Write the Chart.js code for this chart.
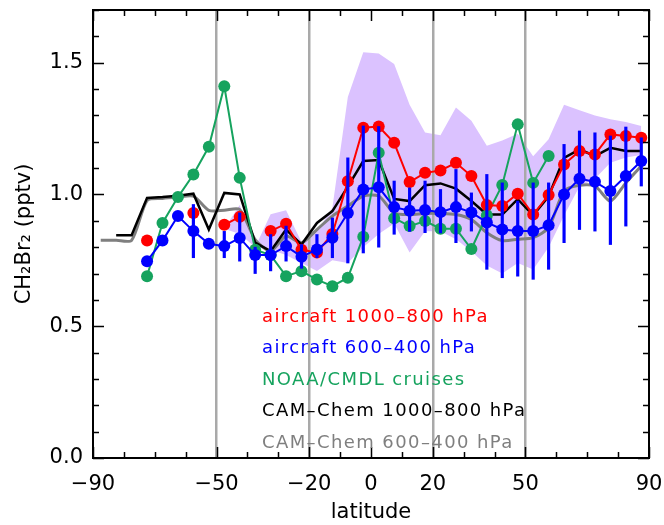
<!DOCTYPE html>
<html><head><meta charset="utf-8">
<script src="https://cdn.jsdelivr.net/npm/chart.js@4.4.1/dist/chart.umd.min.js"></script>
<style>html,body{margin:0;padding:0;background:#fff}canvas{display:block}</style>
</head><body>
<canvas id="c" width="664" height="525"></canvas>
<script>
// latitude bin centres (deg)
const latitudes = [-87.5,-82.5,-77.5,-72.5,-67.5,-62.5,-57.5,-52.5,-47.5,-42.5,-37.5,-32.5,-27.5,-22.5,-17.5,-12.5,-7.5,-2.5,
                   2.5,7.5,12.5,17.5,22.5,27.5,32.5,37.5,42.5,47.5,52.5,57.5,62.5,67.5,72.5,77.5,82.5,87.5];
// aircraft 1000-800 hPa (red)
const aircraftLow = [null,null,null,0.825,null,null,0.93,null,0.885,0.915,null,0.861,0.889,0.79,0.78,0.85,1.05,1.253,
                     1.258,1.196,1.047,1.082,1.091,1.12,1.07,0.96,0.956,1.003,0.924,0.998,1.114,1.165,1.152,1.228,1.222,1.215];
// aircraft 600-400 hPa (blue)
const aircraftMid = [null,null,null,0.747,0.825,0.918,0.861,0.813,0.804,0.835,0.77,0.77,0.804,0.764,0.791,0.836,0.93,1.019,
                     1.027,0.952,0.938,0.941,0.933,0.952,0.932,0.894,0.867,0.861,0.861,0.883,1.0,1.06,1.048,1.013,1.07,1.127];
const aircraftMidErrLow  = [null,null,null,null,null,null,0.76,null,0.76,0.747,0.70,0.71,0.747,0.72,0.76,0.76,0.74,0.778,
                            0.80,0.849,0.86,0.855,0.854,0.817,0.861,0.716,0.684,0.69,0.678,0.716,0.817,0.867,0.861,0.81,0.88,1.032];
const aircraftMidErrHigh = [null,null,null,null,null,null,0.962,null,0.86,0.93,0.80,0.848,0.88,0.81,0.848,0.911,1.139,1.26,
                            1.258,1.051,1.025,1.051,1.019,1.095,1.006,1.076,1.044,0.975,1.044,1.044,1.19,1.241,1.234,1.222,1.256,1.215];
// NOAA/CMDL cruises (green)
const cruises = [null,null,null,0.69,0.892,0.99,1.076,1.181,1.411,1.063,0.79,0.77,0.69,0.709,0.677,0.652,0.684,0.84,
                 1.158,0.91,0.88,0.899,0.87,0.87,0.793,0.92,1.036,1.266,1.044,1.146,null,null,null,null,null,null];
// CAM-Chem 1000-800 hPa (black)
const camLow = [null,0.845,0.845,0.987,0.99,0.995,1.003,0.867,1.006,1.0,0.817,0.785,0.867,0.81,0.892,0.937,1.03,1.127,
                1.131,0.983,0.975,1.035,1.042,1.022,0.975,0.924,0.924,0.982,0.921,0.993,1.139,1.171,1.146,1.177,1.165,1.165];
// CAM-Chem 600-400 hPa (grey)
const camMid = [0.826,0.826,0.826,0.977,0.985,0.99,0.994,0.94,0.94,0.943,0.829,0.785,0.842,0.817,0.867,0.918,0.956,0.994,
                0.994,0.93,0.924,0.928,0.928,0.924,0.905,0.855,0.825,0.83,0.836,0.874,1.013,1.035,1.032,0.975,1.044,1.108];
// model range (purple shading)
const rangeHigh = [null,null,null,null,null,null,null,null,0.87,0.96,0.80,0.925,0.94,0.82,0.86,0.95,1.37,1.54,
                   1.535,1.495,1.34,1.235,1.225,1.33,1.28,1.185,1.205,1.23,1.145,1.21,1.34,1.32,1.30,1.285,1.275,1.26];
const rangeLow  = [null,null,null,null,null,null,null,null,0.87,0.85,0.80,0.79,0.77,0.74,0.71,0.75,0.74,0.80,
                   0.85,0.89,0.78,0.86,0.86,0.83,0.785,0.73,0.70,0.74,0.715,0.80,0.92,1.03,1.06,1.12,1.14,1.15];

const seriesNames = ['aircraft 1000\u2013800 hPa','aircraft 600\u2013400 hPa','NOAA/CMDL cruises','CAM\u2013Chem 1000\u2013800 hPa','CAM\u2013Chem 600\u2013400 hPa'];
const xTickValues = [-90,-80,-70,-60,-50,-40,-30,-20,-10,0,10,20,30,40,50,60,70,80,90];
const xTickLabels = [-90,-50,-20,0,20,50,90];
const xRefLines = [-50,-20,20,50];
const yTickValues = [0,0.1,0.2,0.3,0.4,0.5,0.6,0.7,0.8,0.9,1.0,1.1,1.2,1.3,1.4,1.5,1.6,1.7];
const yTickLabels = [0,0.5,1.0,1.5];

const RED='#ff0000', BLUE='#0000ff', GREEN='#16a35e', BLACK='#000000', GREY='#7f7f7f', SHADE='rgb(219,194,255)';

const pts = arr => latitudes.map((x,i)=>({x, y: arr[i]}));
const errBars = [];
latitudes.forEach((x,i)=>{ if(aircraftMidErrLow[i]!=null) errBars.push({x, y:[aircraftMidErrLow[i], aircraftMidErrHigh[i]]}); });

const fmtX = v => v<0 ? '\u2212'+Math.abs(v) : String(v);

const frameTicks = {
  id:'frameTicks',
  afterDatasetsDraw(chart){
    const {ctx, chartArea:a, scales:{x,y}} = chart;
    ctx.save();
    ctx.strokeStyle='#000'; ctx.lineWidth=1.5;
    ctx.beginPath();
    for(const v of xTickValues){
      const px = Math.round(x.getPixelForValue(v))+0.5;
      const len = xTickLabels.includes(v)?11:6;
      ctx.moveTo(px,a.bottom); ctx.lineTo(px,a.bottom-len);
      ctx.moveTo(px,a.top); ctx.lineTo(px,a.top+len);
    }
    for(const v of yTickValues){
      const py = Math.round(y.getPixelForValue(v))+0.5;
      const len = yTickLabels.includes(v)?11:6;
      ctx.moveTo(a.left,py); ctx.lineTo(a.left+len,py);
      ctx.moveTo(a.right,py); ctx.lineTo(a.right-len,py);
    }
    ctx.stroke();
    ctx.lineWidth=2;
    ctx.strokeRect(a.left,a.top,a.right-a.left,a.bottom-a.top);
    // in-plot legend
    const colors=[RED,BLUE,GREEN,BLACK,GREY];
    ctx.font='18px "DejaVu Sans"';
    try{ctx.letterSpacing='1.4px';}catch(e){}
    ctx.textBaseline='alphabetic'; ctx.textAlign='left';
    seriesNames.forEach((t,i)=>{ ctx.fillStyle=colors[i]; ctx.fillText(t, 262, 321.5+i*31.5); });
    ctx.restore();
  }
};

new Chart(document.getElementById('c'), {
  type:'line',
  data:{ datasets:[
    {label:seriesNames[1], data:pts(aircraftMid), borderColor:BLUE, backgroundColor:BLUE, borderWidth:2, pointRadius:6, pointBorderWidth:0, pointBackgroundColor:BLUE, order:0, spanGaps:false},
    {type:'bar', label:'err', data:errBars, backgroundColor:BLUE, borderWidth:0, barThickness:2.5, grouped:false, order:1},
    {label:seriesNames[0], data:pts(aircraftLow), borderColor:RED, backgroundColor:RED, borderWidth:2, pointRadius:6, pointBorderWidth:0, pointBackgroundColor:RED, order:2, spanGaps:false},
    {label:seriesNames[2], data:pts(cruises), borderColor:GREEN, backgroundColor:GREEN, borderWidth:2, pointRadius:6, pointBorderWidth:0, pointBackgroundColor:GREEN, order:3, spanGaps:false},
    {label:seriesNames[3], data:pts(camLow), borderColor:BLACK, borderWidth:2.5, pointRadius:0, order:4, spanGaps:false},
    {label:seriesNames[4], data:pts(camMid), borderColor:GREY, borderWidth:3, pointRadius:0, tension:0.25, order:5, spanGaps:false},
    {label:'range hi', data:pts(rangeHigh), borderWidth:0, borderColor:'rgba(0,0,0,0)', backgroundColor:SHADE, pointRadius:0, fill:'+1', order:6, spanGaps:false},
    {label:'range lo', data:pts(rangeLow), borderWidth:0, borderColor:'rgba(0,0,0,0)', pointRadius:0, fill:false, order:7, spanGaps:false}
  ]},
  options:{
    responsive:false, animation:false, devicePixelRatio:1,
    layout:{autoPadding:false, padding:{top:10,right:15,left:0,bottom:0}},
    plugins:{legend:{display:false}, tooltip:{enabled:false}, filler:{propagate:false, drawTime:'beforeDraw'}},
    scales:{
      x:{type:'linear', min:-90, max:90, offset:false,
        afterBuildTicks:s=>{ s.ticks = xTickValues.map(v=>({value:v})); },
        afterFit:s=>{ s.height=67; s.paddingLeft=0; s.paddingRight=0; s.paddingTop=0; s.paddingBottom=0; },
        ticks:{autoSkip:false, maxRotation:0, minRotation:0, padding:14, color:'#000', font:{family:'DejaVu Sans', size:21},
               callback:v=> xTickLabels.includes(v)? fmtX(v) : ''},
        grid:{offset:false, drawTicks:false, lineWidth:2.5, color:c=> (c.tick && xRefLines.includes(c.tick.value))? '#a9a9a9':'rgba(0,0,0,0)'},
        border:{display:false},
        title:{display:true, text:'latitude', color:'#000', font:{family:'DejaVu Sans', size:21}, padding:{top:0,bottom:0}}
      },
      y:{type:'linear', min:0, max:1.7,
        afterBuildTicks:s=>{ s.ticks = yTickValues.map(v=>({value:v})); },
        afterFit:s=>{ s.width=93; s.paddingTop=0; s.paddingBottom=0; s.paddingLeft=0; s.paddingRight=0; },
        ticks:{autoSkip:false, padding:10, color:'#000', font:{family:'DejaVu Sans', size:21},
               callback:v=> yTickLabels.includes(v)? v.toFixed(1) : ''},
        grid:{display:false, drawTicks:false},
        border:{display:false},
        title:{display:true, text:'CH\u2082Br\u2082 (pptv)', color:'#000', font:{family:'DejaVu Sans', size:21}, padding:{top:12,bottom:0}}
      }
    }
  },
  plugins:[frameTicks]
});
</script>
</body></html>
